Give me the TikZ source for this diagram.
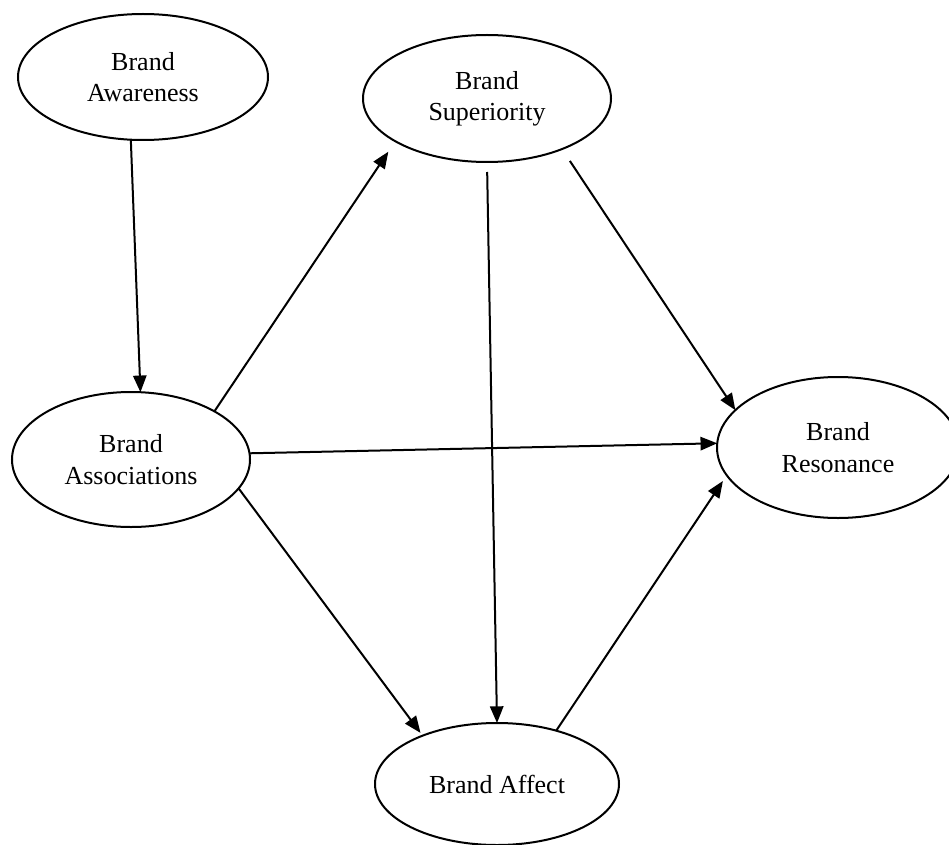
\documentclass[tikz,border=0pt]{standalone}
\usepackage{fontspec}
\setmainfont{Liberation Serif}
\usetikzlibrary{shapes.geometric,arrows.meta}
\begin{document}
\begin{tikzpicture}[x=0.75pt,y=-0.75pt,
  bubble/.style={ellipse,draw,line width=1.5pt,inner sep=0pt,outer sep=0pt,
    align=center,font=\fontsize{19.5}{23.5}\selectfont},
  link/.style={line width=1.5pt,-{Triangle[length=12.5pt,width=10pt]}}]
\useasboundingbox (0,0) rectangle (949,845);
\fill[white] (0,0) rectangle (949,845);
\clip (0,0) rectangle (949,845);
\node[bubble,minimum width=187.5pt,minimum height=94.5pt] (aw) at (143,77) {Brand\\Awareness};
\node[bubble,minimum width=186pt,minimum height=95.25pt] (sup) at (487,98.5) {Brand\\Superiority};
\node[bubble,minimum width=178.5pt,minimum height=101.25pt] (as) at (131,459.5) {Brand\\Associations};
\node[bubble,minimum width=181.5pt,minimum height=105.75pt] (res) at (838,447.5) {Brand\\Resonance};
\node[bubble,minimum width=183pt,minimum height=91.5pt] (af) at (497,784) {Brand Affect};
\draw[link] (aw.259.7) -- (as.82);
\draw[link,shorten >=9.4pt] (as.30) -- (sup.205);
\draw[link] (as.3.8) -- (res.178.8);
\draw[link,shorten >=2.6pt] (as.345.8) -- (af.147.3);
\draw[link,shorten <=7.5pt] (sup.270) -- (af.90);
\draw[link,shorten <=10.7pt] (sup.326.1) -- (res.160.9);
\draw[link,shorten >=5.2pt] (af.42.5) -- (res.194);
\end{tikzpicture}
\end{document}
